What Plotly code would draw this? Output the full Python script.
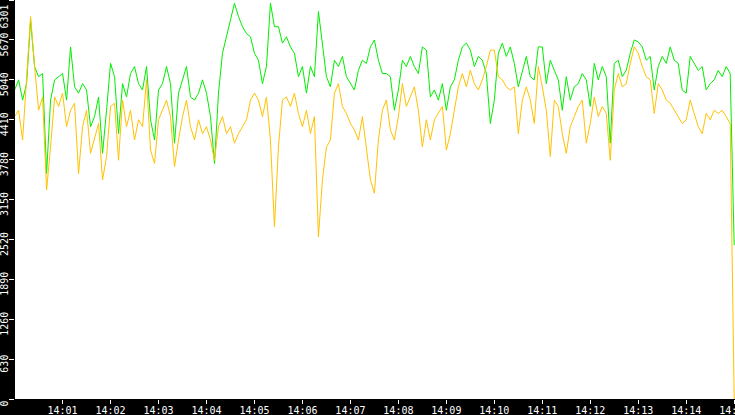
from __future__ import annotations

import pandas as pd
import plotly.graph_objects as go

# one sample every 5 s from 14:00:00 to 14:15:00
start = pd.Timestamp('2024-01-01 14:00:00')
times = pd.date_range(start, periods=181, freq='5s')

green_values = [
    # 14:00 - 14:05
    4880, 5040, 4720, 4980, 5980, 5250, 5090, 5140, 3560, 4720,
    5040, 5090, 5140, 4720, 5560, 4930, 4830, 4980, 4880, 4300,
    4460, 4770, 3880, 4560, 5300, 5090, 4190, 4980, 4770, 5140,
    5250, 4980, 4880, 5250, 4410, 4090, 4880, 4980, 5250, 4980,
    4040, 4830, 5040, 5250, 4770, 4720, 4830, 5040, 4830, 4460,
    3720, 4830, 5460, 5720, 5980, 6250, 6040, 5880, 5770, 5720,
    # 14:05 - 14:10
    5460, 5350, 4980, 5250, 6250, 5880, 5880, 5620, 5720, 5560,
    5460, 5090, 5250, 4830, 5250, 5090, 6120, 5560, 5090, 4930,
    5350, 5250, 5410, 5090, 4980, 4880, 5190, 5350, 5300, 5560,
    5670, 5350, 5140, 5140, 5090, 4560, 4880, 5350, 5250, 5410,
    5250, 5140, 5560, 5510, 4770, 4880, 4720, 4980, 4560, 4930,
    5040, 5350, 5560, 5620, 5510, 5250, 5410, 5350, 5140, 4350,
    # 14:10 - 14:15
    4720, 5460, 5620, 5410, 5560, 5300, 4930, 5190, 5410, 5090,
    5040, 5560, 5560, 4980, 5350, 5190, 5040, 4560, 5090, 4720,
    4930, 4980, 5140, 5040, 4620, 5300, 5040, 5250, 5090, 4040,
    5300, 5350, 5090, 5190, 5460, 5670, 5640, 5560, 5350, 5410,
    4880, 5250, 5410, 5300, 5560, 5350, 5300, 4880, 4830, 5410,
    5300, 5190, 5250, 4880, 4980, 5040, 5190, 5090, 5250, 5140,
    2430,
]

orange_values = [
    # 14:00 - 14:05
    4460, 4560, 4090, 5090, 6040, 5250, 4560, 4770, 3300, 3980,
    4770, 4620, 4830, 4300, 4560, 4670, 3560, 4300, 4560, 3880,
    4140, 4350, 3460, 3830, 4620, 4670, 3770, 4720, 4300, 4560,
    4090, 4410, 4300, 5040, 3930, 3720, 4410, 4560, 4720, 4460,
    3670, 4090, 4460, 4720, 4300, 4090, 4410, 4190, 4300, 4090,
    3770, 4300, 4460, 4190, 4300, 4040, 4190, 4300, 4410, 4720,
    # 14:05 - 14:10
    4830, 4720, 4460, 4770, 4090, 2720, 3980, 4720, 4770, 4620,
    4830, 4510, 4300, 4560, 4190, 4460, 2560, 3460, 3980, 4090,
    4830, 4980, 4620, 4510, 4350, 4250, 4090, 4460, 3980, 3460,
    3250, 4090, 4560, 4720, 4250, 4090, 4460, 4980, 4620, 4770,
    4930, 4560, 3980, 4410, 4090, 4410, 4510, 4620, 3930, 4190,
    4560, 4930, 5140, 4930, 5190, 4980, 4880, 5040, 5250, 5510,
    # 14:10 - 14:15
    5510, 5090, 5040, 4930, 4880, 4930, 4190, 4720, 4930, 4720,
    4350, 5250, 4930, 4560, 3830, 4720, 4620, 4190, 3880, 4300,
    4460, 4620, 4720, 4040, 4350, 4770, 4460, 4620, 4510, 3770,
    4880, 5140, 4930, 4980, 5300, 5560, 5460, 5250, 5090, 5040,
    4510, 4980, 4880, 4720, 4670, 4560, 4460, 4350, 4410, 4720,
    4510, 4300, 4190, 4510, 4410, 4560, 4510, 4560, 4460, 4350,
    0,
]

y_tick_labels = ['0', '630', '1260', '1890', '2520', '3150', '3780', '4410', '5040', '5670', '6301']
y_max = 6301

mono = 'DejaVu Sans Mono'
tick_font = dict(family=mono, size=10, color='white')

# rotated labels sit just below their tick; the top one is pushed fully inside
pad = '\u00a0'
y_tick_text = [t + pad * 2 for t in y_tick_labels[:-1]] + [y_tick_labels[-1] + pad * 6]

fig = go.Figure()
for values, color in ((green_values, '#00ee00'), (orange_values, '#ffc200')):
    fig.add_trace(go.Scatter(
        x=times, y=values, mode='lines',
        line=dict(color=color, width=1),
        hoverinfo='skip',
    ))

fig.update_layout(
    width=735,
    height=415,
    margin=dict(l=15, r=0, t=0, b=16, autoexpand=False),
    paper_bgcolor='black',
    plot_bgcolor='white',
    showlegend=False,
    font=dict(family=mono, size=10, color='white'),
)
fig.update_xaxes(
    automargin=False,
    range=[start + pd.Timedelta(seconds=0.5), start + pd.Timedelta(seconds=901)],
    dtick=60000,
    tickformat='%H:%M',
    ticks='outside',
    ticklen=4,
    tickcolor='white',
    tickfont=tick_font,
    ticklabelstandoff=-2,
    ticklabeloverflow='allow',
    showgrid=False,
    zeroline=False,
    showline=False,
)
fig.update_yaxes(
    automargin=False,
    range=[0, y_max],
    tickvals=[y_max * i / 10 for i in range(11)],
    ticktext=y_tick_text,
    tickangle=-90,
    ticks='outside',
    ticklen=5,
    tickcolor='white',
    tickfont=tick_font,
    ticklabelstandoff=-3,
    ticklabeloverflow='allow',
    showgrid=False,
    zeroline=False,
    showline=False,
)

# the page keeps the browser's default body margin otherwise
fig.write_html(
    'out.html',
    config={'displayModeBar': False},
    post_script="document.body.style.margin = '0';",
)
